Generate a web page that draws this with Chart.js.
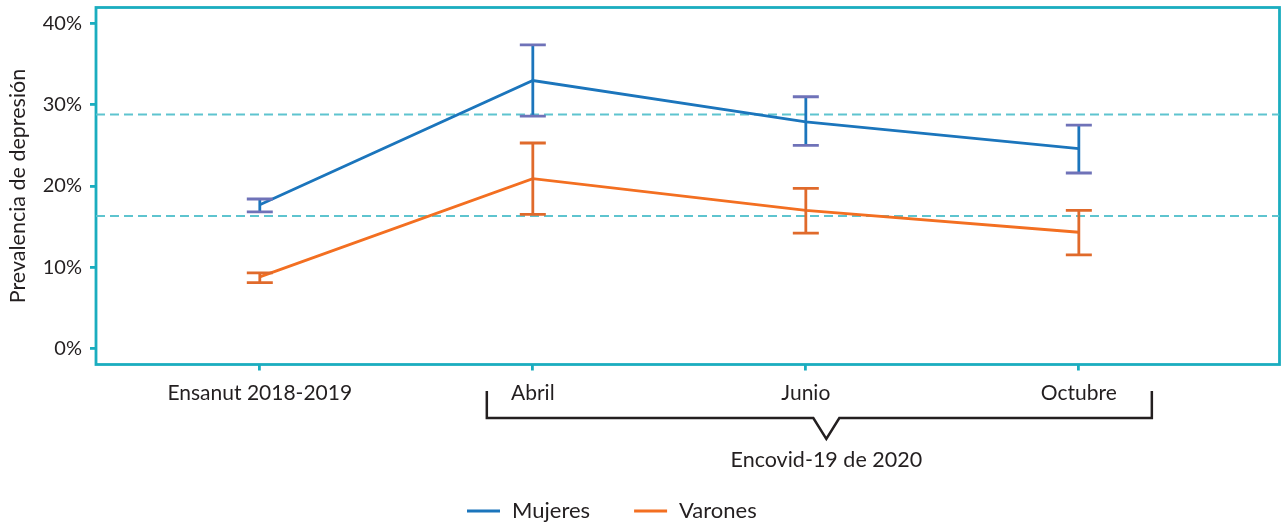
<!DOCTYPE html>
<html>
<head>
<meta charset="utf-8">
<script src="https://cdn.jsdelivr.net/npm/chart.js@4.4.1/dist/chart.umd.min.js"></script>
<style>
  html, body { margin: 0; padding: 0; background: #ffffff; }
  #wrap { width: 1281px; height: 525px; }
</style>
</head>
<body>
<div id="wrap"><canvas id="c" width="1281" height="525" style="width:1281px;height:525px"></canvas></div>
<script>
// ---- data ----
const categories = ['Ensanut 2018-2019', 'Abril', 'Junio', 'Octubre'];
const mujeres     = [17.7, 33.0, 27.9, 24.6];
const mujeresLow  = [16.8, 28.6, 25.0, 21.6];
const mujeresHigh = [18.4, 37.4, 31.0, 27.5];
const varones     = [8.8, 20.9, 17.0, 14.3];
const varonesLow  = [8.1, 16.5, 14.2, 11.5];
const varonesHigh = [9.3, 25.3, 19.7, 17.0];
const refLines    = [28.8, 16.3];
const yTicks      = [0, 10, 20, 30, 40];
const groupLabel  = 'Encovid-19 de 2020';

// ---- styles ----
const TEAL = '#1badbf';
const DASH = '#5ec4cf';
const TEXT = '#231f20';
const BLUE = '#1b75bc';
const BLUE_CAP = '#6f72b8';
const ORANGE = '#f36f21';
const ORANGE_BAR = '#e06a2b';
const FONT = 'Lato, "Open Sans", sans-serif';
const X_MIN = -0.6, X_MAX = 3.735;
const LW = 2.8;

function pts(vals) { return vals.map((v, i) => ({ x: i, y: v })); }
function whiskers(lo, hi) {
  const d = [];
  lo.forEach((l, i) => { d.push({ x: i, y: l }, { x: i, y: hi[i] }, { x: i, y: null }); });
  return d;
}
function caps(lo, hi) {
  const d = [];
  lo.forEach((l, i) => { d.push({ x: i, y: l }, { x: i, y: hi[i] }); });
  return d;
}

const datasets = [];
refLines.forEach(v => datasets.push({
  data: [{ x: X_MIN, y: v }, { x: X_MAX, y: v }],
  borderColor: DASH, borderWidth: 2, borderDash: [9, 5],
  pointRadius: 0, order: 10
}));
datasets.push({
  label: 'Varones', legend: true, data: pts(varones),
  borderColor: ORANGE, backgroundColor: ORANGE, borderWidth: LW,
  pointRadius: 0, order: 6
});
datasets.push({
  label: 'Mujeres', legend: true, data: pts(mujeres),
  borderColor: BLUE, backgroundColor: BLUE, borderWidth: LW,
  pointRadius: 0, order: 5
});
datasets.push({
  data: whiskers(varonesLow, varonesHigh), spanGaps: false,
  borderColor: ORANGE_BAR, borderWidth: LW, pointRadius: 0, order: 4
});
datasets.push({
  data: caps(varonesLow, varonesHigh), showLine: false,
  pointStyle: 'line', pointRadius: 13, pointBorderWidth: LW,
  pointBorderColor: ORANGE_BAR, borderColor: ORANGE_BAR, order: 3
});
datasets.push({
  data: whiskers(mujeresLow, mujeresHigh), spanGaps: false,
  borderColor: BLUE, borderWidth: LW, pointRadius: 0, order: 2
});
datasets.push({
  data: caps(mujeresLow, mujeresHigh), showLine: false,
  pointStyle: 'line', pointRadius: 13, pointBorderWidth: LW,
  pointBorderColor: BLUE_CAP, borderColor: BLUE_CAP, order: 1
});

const framePlugin = {
  id: 'frame',
  beforeDatasetsDraw(chart) {
    const { ctx, chartArea: a } = chart;
    ctx.save();
    ctx.strokeStyle = TEAL;
    ctx.lineWidth = 2.8;
    ctx.strokeRect(a.left, a.top, a.right - a.left, a.bottom - a.top);
    ctx.restore();
  }
};

const bracketPlugin = {
  id: 'bracket',
  afterDraw(chart) {
    const { ctx } = chart;
    const xs = chart.scales.x;
    const left = xs.getPixelForValue(1) - 46;
    const right = xs.getPixelForValue(3) + 73;
    const mid = (left + right) / 2 + 7;
    const top = 391, base = 418, apex = 439, half = 13;
    ctx.save();
    ctx.strokeStyle = TEXT;
    ctx.lineWidth = 2.5;
    ctx.lineJoin = 'miter';
    ctx.beginPath();
    ctx.moveTo(left, top);
    ctx.lineTo(left, base);
    ctx.lineTo(mid - half, base);
    ctx.lineTo(mid, apex);
    ctx.lineTo(mid + half, base);
    ctx.lineTo(right, base);
    ctx.lineTo(right, top);
    ctx.stroke();
    ctx.fillStyle = TEXT;
    ctx.font = '21.5px ' + FONT;
    ctx.textAlign = 'center';
    ctx.textBaseline = 'middle';
    ctx.fillText(groupLabel, mid, 460);
    ctx.restore();
  }
};

const legendPlugin = {
  id: 'customLegend',
  afterDraw(chart) {
    const { ctx } = chart;
    const items = chart.data.datasets.filter(d => d.legend)
      .sort((a, b) => a.label === 'Mujeres' ? -1 : 1);
    let x = 467;
    const y = 511;
    ctx.save();
    ctx.font = '22px ' + FONT;
    ctx.textBaseline = 'middle';
    ctx.textAlign = 'left';
    items.forEach(it => {
      ctx.strokeStyle = it.borderColor;
      ctx.lineWidth = 3;
      ctx.beginPath();
      ctx.moveTo(x, y);
      ctx.lineTo(x + 33, y);
      ctx.stroke();
      x += 45;
      ctx.fillStyle = TEXT;
      ctx.fillText(it.label, x, y);
      x += ctx.measureText(it.label).width + 44;
    });
    ctx.restore();
  }
};

new Chart(document.getElementById('c'), {
  type: 'line',
  data: { datasets },
  plugins: [framePlugin, bracketPlugin, legendPlugin],
  options: {
    responsive: false,
    animation: false,
    events: [],
    layout: { autoPadding: false, padding: { top: 7.5, right: 1.5, left: 0, bottom: 0 } },
    plugins: { legend: { display: false }, tooltip: { enabled: false } },
    scales: {
      x: {
        type: 'linear', min: X_MIN, max: X_MAX,
        afterFit(s) { s.height = 160.5; s.paddingLeft = 0; s.paddingRight = 0; },
        afterBuildTicks(s) { s.ticks = categories.map((c, i) => ({ value: i })); },
        border: { display: false },
        grid: { drawOnChartArea: false, drawTicks: true, tickLength: 6, color: TEAL, lineWidth: 2.8 },
        ticks: {
          autoSkip: false, maxRotation: 0, padding: 10, color: TEXT,
          font: { family: FONT, size: 21 },
          callback: (v) => categories[v]
        }
      },
      y: {
        type: 'linear', min: -2, max: 42,
        afterFit(s) { s.width = 96; s.paddingTop = 0; s.paddingBottom = 0; },
        afterBuildTicks(s) { s.ticks = yTicks.map(v => ({ value: v })); },
        border: { display: false },
        grid: { drawOnChartArea: false, drawTicks: true, tickLength: 6, color: TEAL, lineWidth: 2.8 },
        ticks: {
          padding: 8, color: TEXT,
          font: { family: FONT, size: 20 },
          callback: (v) => v + '%'
        },
        title: {
          display: true, text: 'Prevalencia de depresión', color: TEXT,
          font: { family: FONT, size: 21.5 }, padding: { top: 5, bottom: 0 }
        }
      }
    }
  }
});
</script>
</body>
</html>
